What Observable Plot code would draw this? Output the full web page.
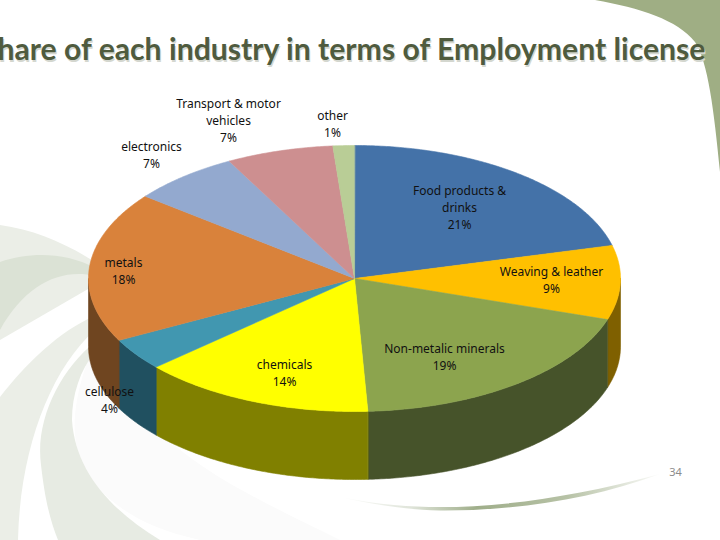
<!DOCTYPE html>
<html>
<head>
<meta charset="utf-8">
<script src="https://cdn.jsdelivr.net/npm/d3@7"></script>
<script src="https://cdn.jsdelivr.net/npm/@observablehq/plot@0.6"></script>
<style>
  html, body { margin: 0; padding: 0; background: #fff; overflow: hidden; }
  #stage { position: relative; width: 720px; height: 540px; overflow: hidden; }
  #decor, #chart { position: absolute; left: 0; top: 0; }
  #chart svg { background: transparent; display: block; }
</style>
</head>
<body>
<div id="stage">
  <svg id="decor" width="720" height="540" viewBox="0 0 720 540" aria-hidden="true">
    <defs>
      <linearGradient id="arc" x1="340" x2="665" y1="0" y2="0" gradientUnits="userSpaceOnUse">
        <stop offset="0" stop-color="#fff"/>
        <stop offset="0.22" stop-color="#dfe4d9"/>
        <stop offset="0.42" stop-color="#9fae8a"/>
        <stop offset="0.7" stop-color="#b7c2a6"/>
        <stop offset="1" stop-color="#fff"/>
      </linearGradient>
    </defs>
    <path fill="#9fae84" d="M595,0 C640,8 678,20 695,42 C708,62 714,110 720,172 L720,0 Z"/>
    <path fill="#fbfbfb" d="M95,340 C72,400 62,450 100,490 C125,515 155,530 200,540 L340,540 C270,505 190,470 150,420 Z"/>
    <path fill="#ebeee7" d="M0,225 C35,230 65,243 95,262 L95,285 L0,340 Z"/>
    <path fill="#dbe2d5" d="M0,262 C30,252 65,252 95,268 L95,276 C60,268 25,285 0,330 Z"/>
    <path fill="#ebeee7" d="M95,316 C60,330 25,365 0,397 L0,540 L18,540 C20,450 50,370 95,330 Z"/>
    <path fill="#e7ebe3" d="M95,342 C60,370 35,420 41,465 C45,500 50,520 58,540 L160,540 C110,510 75,470 72,420 C72,395 80,370 95,352 Z"/>
    <path fill="url(#arc)" d="M340,497 C380,505 410,507 440,507 C500,507 570,498 660,474 C590,500 510,511 440,510.5 C410,510 375,505 340,497 Z"/>
  </svg>
  <div id="chart"></div>
</div>
<script>
const categories = ["Food products & drinks", "Weaving & leather", "Non-metalic minerals", "chemicals", "cellulose", "metals", "electronics", "Transport & motor vehicles", "other"];
const shares = [21, 9, 19.2, 14.2, 3.9, 18.3, 6.6, 6.5, 1.3];
const topColors = ["#4472a8", "#ffc000", "#8ca44e", "#ffff00", "#4197b0", "#d9823b", "#93a9cf", "#cd8f90", "#b9cd96"];
const sideColors = ["#2f4f75", "#7f6000", "#46532a", "#808000", "#205060", "#6f4520", "#66768f", "#8f6464", "#81906a"];
const labelLines = [
  "Food products &\ndrinks", "Weaving & leather", "Non-metalic minerals", "chemicals", "cellulose",
  "metals", "electronics", "Transport & motor\nvehicles", "other"
];
// the title as it is visible in the reference, whose first letter lies past the left edge
const title = "hare of each industry in terms of Employment license";
const pageNumber = "34";

// layout (the pie is an ellipse seen in perspective, extruded downward)
const cx = 354, cy = 278, rx = 266, ry = 133, depth = 68;
const labelAt = [[459, 206], [551, 279], [444, 356], [284, 372], [109, 399], [123, 270], [151, 154], [228, 119], [332, 123]];

const total = d3.sum(shares);
const cumulative = d3.cumsum(shares);
const angleOf = (v) => (v / total) * 2 * Math.PI;
const rimPoint = (t, drop = 0) => ({x: cx + rx * Math.sin(t), y: cy - ry * Math.cos(t) + drop});

function arcPoints(a, b, drop) {
  const n = Math.max(2, Math.ceil((b - a) / 0.01));
  return d3.range(n + 1).map((i) => rimPoint(a + ((b - a) * i) / n, drop));
}

const polys = [];
categories.forEach((name, i) => {
  const a = angleOf(i ? cumulative[i - 1] : 0);
  const b = angleOf(cumulative[i]);
  // the side wall: only the front half of the rim can be seen
  const wa = Math.max(a, Math.PI / 2), wb = Math.min(b, (3 * Math.PI) / 2);
  if (wb > wa) {
    const wall = [...arcPoints(wa, wb, 0), ...arcPoints(wa, wb, depth).reverse()];
    wall.forEach((p) => polys.push({...p, key: "side" + i, color: sideColors[i]}));
  }
});
categories.forEach((name, i) => {
  const a = angleOf(i ? cumulative[i - 1] : 0);
  const b = angleOf(cumulative[i]);
  [{x: cx, y: cy}, ...arcPoints(a, b, 0)].forEach((p) => polys.push({...p, key: "top" + i, color: topColors[i]}));
});

const labels = categories.map((name, i) => ({
  text: labelLines[i] + "\n" + Math.round(shares[i]) + "%",
  x: labelAt[i][0],
  y: labelAt[i][1]
}));

const labelFont = "'Noto Sans', sans-serif";
const plot = Plot.plot({
  width: 720,
  height: 540,
  margin: 0,
  x: {domain: [0, 720], range: [0, 720], axis: null},
  y: {domain: [0, 540], range: [0, 540], axis: null},
  marks: [
    Plot.line(polys, {x: "x", y: "y", z: "key", fill: "color", stroke: "color", strokeWidth: 0.6, curve: "linear-closed"}),
    Plot.text([title], {x: () => 705, y: () => 50, dx: 1, dy: 1.5, text: (d) => d, textAnchor: "end", fontFamily: "Lato, sans-serif", fontWeight: 700, fontSize: 30.2, fill: "#d4d7cf"}),
    Plot.text([title], {x: () => 705, y: () => 50, text: (d) => d, textAnchor: "end", fontFamily: "Lato, sans-serif", fontWeight: 700, fontSize: 30.2, fill: "#4f5b3e"}),
    Plot.text(labels, {x: "x", y: "y", text: "text", fontFamily: labelFont, fontSize: 12, lineHeight: 1.42, fill: "#111"}),
    Plot.text([pageNumber], {x: () => 675, y: () => 472, text: (d) => d, fontFamily: labelFont, fontSize: 11, fill: "#8c8c8c"})
  ]
});
document.getElementById("chart").appendChild(plot);
</script>
</body>
</html>
